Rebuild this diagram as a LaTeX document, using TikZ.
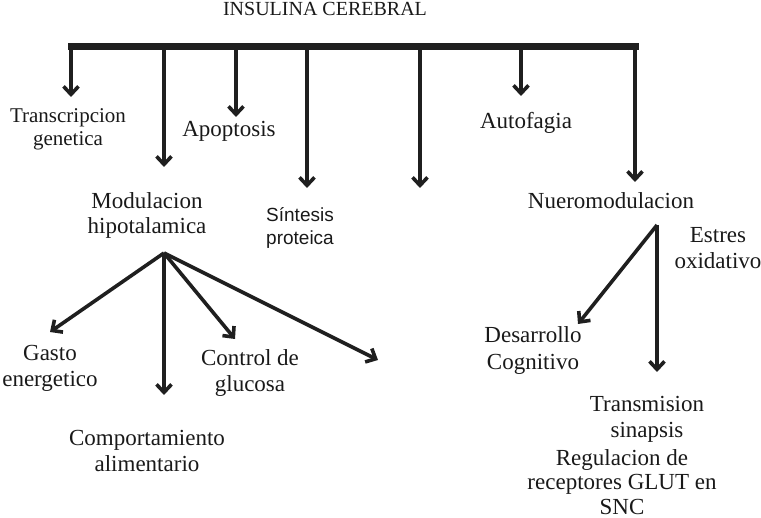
\documentclass[tikz,border=0pt]{standalone}
\usepackage{fontspec}
\setmainfont{Liberation Serif}
\newfontfamily\sanslab{Liberation Sans}
\usetikzlibrary{arrows.meta}
\begin{document}
\begin{tikzpicture}[x=1pt,y=-1pt,
  lab/.style={font=\fontsize{23}{26}\selectfont, align=center, inner sep=0pt, text=black!90},
  arr/.style={line width=3.6pt, draw=black!88, -{Straight Barb[length=8pt,width=15pt,line width=3.6pt]}},
  bar/.style={line width=7pt, draw=black!88, line cap=rect},
]
\useasboundingbox (0,0) rectangle (761,518);

% title
\node[lab, font=\fontsize{20}{24}\selectfont, anchor=base] (title) at (325,16) {INSULINA CEREBRAL};

% bar
\coordinate (barL) at (71,47);
\coordinate (barR) at (635,47);
\draw[bar] (barL) -- (barR);

% bar branch points and arrow tips
\coordinate (b1) at (71,47);   \coordinate (t1) at (71,97);
\coordinate (b2) at (164,47);  \coordinate (t2) at (164,167);
\coordinate (b3) at (236,47);  \coordinate (t3) at (236,117);
\coordinate (b4) at (307,47);  \coordinate (t4) at (307,188);
\coordinate (b5) at (420,47);  \coordinate (t5) at (420,188);
\coordinate (b6) at (521,47);  \coordinate (t6) at (521,96);
\coordinate (b7) at (635,44);  \coordinate (t7) at (635,182);
\foreach \i in {1,...,7} \draw[arr] (b\i) -- (t\i);

% first level labels
\node[lab, font=\fontsize{21}{23}\selectfont] (transc) at (68,129) {Transcripcion\\genetica};
\node[lab] (apop) at (229,131) {Apoptosis};
\node[lab, font=\fontsize{23}{25}\selectfont] (modul) at (147,215) {Modulacion\\hipotalamica};
\node[lab, font=\sanslab\fontsize{19}{23}\selectfont] (sint) at (300,228) {Síntesis\\proteica};
\node[lab] (autof) at (526,123) {Autofagia};
\node[lab] (neuro) at (611,201) {Nueromodulacion};
\node[lab] (estres) at (718,248) {Estres\\oxidativo};

% hypothalamic branches
\coordinate (hubA) at (164,253);
\coordinate (tA1) at (50,332);
\coordinate (tA2) at (164,395);
\coordinate (tA3) at (235,339);
\coordinate (tA4) at (378,360);
\draw[arr] (hubA) -- (tA1);
\draw[arr, line width=4.5pt] (hubA) -- (tA2);
\draw[arr] (hubA) -- (tA3);
\draw[arr] (hubA) -- (tA4);

\node[lab] (gasto) at (50,368) {Gasto\\energetico};
\node[lab] (control) at (250,373) {Control de\\glucosa};
\node[lab] (comport) at (147,451) {Comportamiento\\alimentario};

% neuromodulation branches
\coordinate (hubB) at (657,225);
\coordinate (tB1) at (578,324);
\coordinate (tB2) at (657,372);
\draw[arr] (hubB) -- (tB1);
\draw[arr] (hubB) -- (tB2);

\node[lab, font=\fontsize{23}{27}\selectfont] (desarr) at (533,351) {Desarrollo\\Cognitivo};
\node[lab] (transm) at (647,419) {Transmision\\sinapsis};
\node[lab, font=\fontsize{23}{24.5}\selectfont] (regul) at (622,482) {Regulacion de\\receptores GLUT en\\SNC};
\end{tikzpicture}
\end{document}
